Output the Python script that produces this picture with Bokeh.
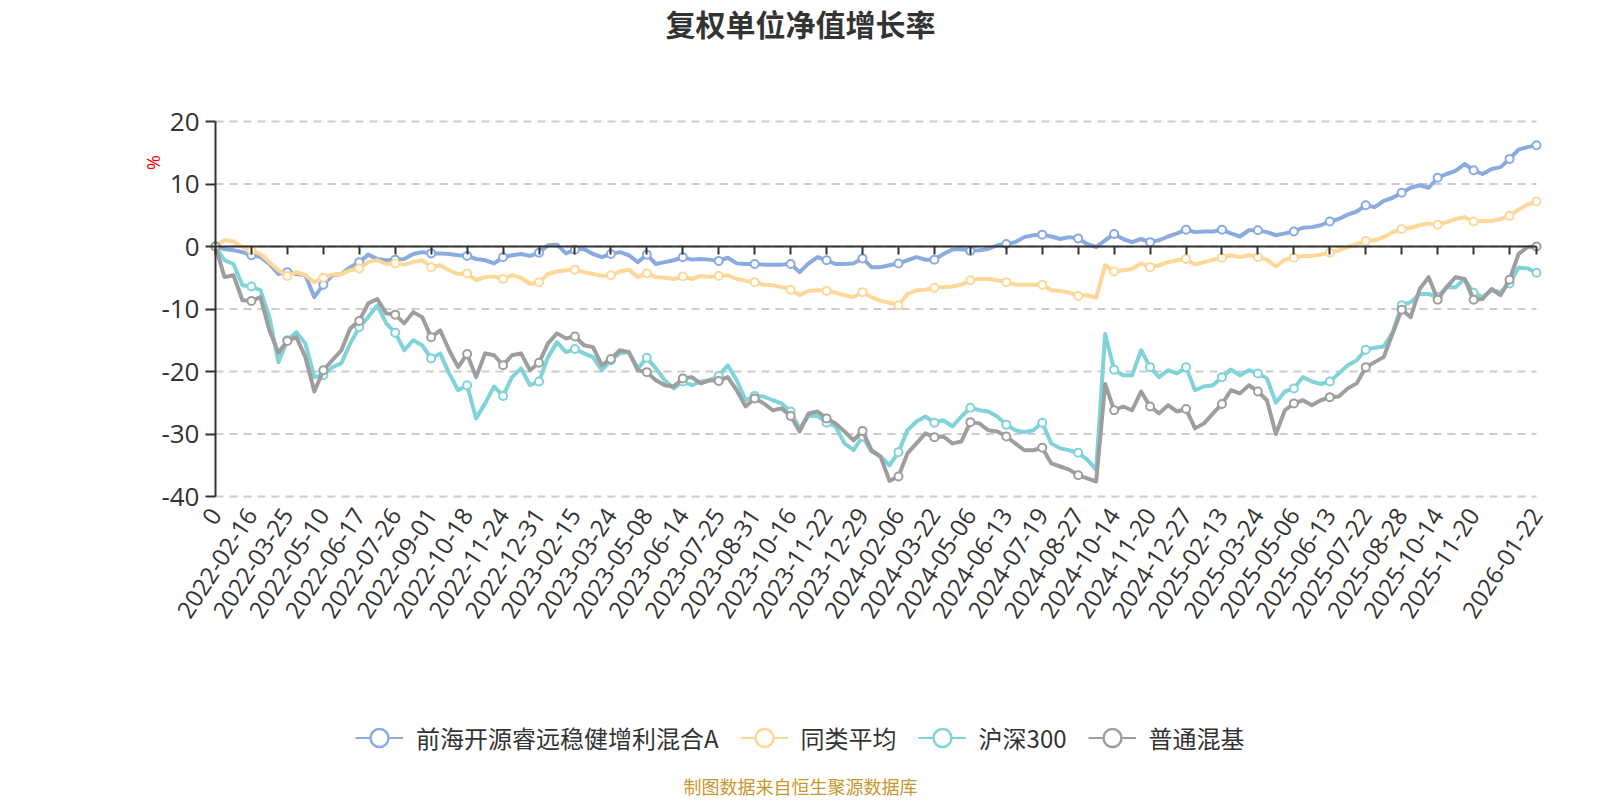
import math
from bokeh.plotting import figure
from bokeh.models import Range1d, FixedTicker, LinearAxis, Label, Legend, LegendItem, Grid
from bokeh.embed import file_html
from bokeh.resources import INLINE

# ---------------- data ----------------
tick_labels = ["0", "2022-02-16", "2022-03-25", "2022-05-10", "2022-06-17", "2022-07-26",
               "2022-09-01", "2022-10-18", "2022-11-24", "2022-12-31", "2023-02-15",
               "2023-03-24", "2023-05-08", "2023-06-14", "2023-07-25", "2023-08-31",
               "2023-10-16", "2023-11-22", "2023-12-29", "2024-02-06", "2024-03-22",
               "2024-05-06", "2024-06-13", "2024-07-19", "2024-08-27", "2024-10-14",
               "2024-11-20", "2024-12-27", "2025-02-13", "2025-03-24", "2025-05-06",
               "2025-06-13", "2025-07-22", "2025-08-28", "2025-10-14", "2025-11-20"]
end_label = "2026-01-22"

fund = [0, -0.4, -0.6, -0.9, -1.4, -1.7, -2.8, -4.4, -4.1, -4.4,
        -4.6, -8.1, -6.1, -4.6, -4.4, -3.3, -2.5, -1.3, -2.0, -2.2,
        -2.1, -2.0, -1.2, -0.9, -1.1, -1.1, -1.2, -1.4, -1.5, -2.0,
        -2.2, -2.7, -1.7, -1.4, -1.2, -1.5, -1.0,
        0.2, 0.3, -1.1, -0.5, -0.4, -1.2, -1.7, -1.2, -0.9, -1.4,
        -2.5, -1.3, -2.8, -2.5, -2.2, -1.7, -2.1, -2.0, -2.1, -2.3,
        -1.8, -2.7, -2.8, -2.8, -2.9, -2.9, -2.9, -2.8, -4.1, -2.7,
        -1.7, -2.2, -2.8, -2.8, -2.7, -1.9,
        -3.3, -3.3, -3.0, -2.7, -2.2, -1.7, -2.1, -2.1, -1.2, -0.5,
        -0.4, -0.7, -0.6, -0.4, 0.2, 0.4, 0.7, 1.5, 1.8, 1.9,
        1.6, 1.2, 1.5, 1.3, 0.4, -0.1, 1.0, 2.0, 1.2, 0.7,
        1.2, 0.7, 1.0, 1.6, 2.1, 2.7,
        2.3, 2.4, 2.4, 2.7, 2.1, 1.6, 2.6, 2.6, 2.3, 1.8,
        2.1, 2.4, 3.0, 3.1, 3.4, 4.0, 4.4, 5.1, 5.6, 6.6,
        6.3, 7.3, 7.8, 8.6, 9.4, 9.8, 9.4, 11.0, 11.6, 12.1,
        13.2, 12.2, 11.6, 12.4, 12.7, 14.0, 15.5, 15.9, 16.2]

peer_avg = [0, 1.0, 0.8, -0.1, -0.6, -1.2, -2.5, -3.8, -4.7, -4.1,
            -4.6, -5.7, -5.0, -4.5, -4.4, -3.8, -3.5, -2.5, -2.2, -2.8,
            -2.7, -2.9, -2.5, -2.2, -3.3, -3.0, -3.8, -4.4, -4.3, -5.4,
            -4.9, -4.8, -5.2, -4.6, -5.0, -6.0, -5.7,
            -4.4, -4.0, -3.8, -3.7, -4.1, -4.4, -4.7, -4.6, -4.0, -3.7,
            -4.9, -4.3, -4.9, -5.0, -5.2, -4.8, -5.2, -4.7, -4.9, -4.7,
            -4.6, -5.2, -5.5, -5.7, -6.1, -6.2, -6.5, -6.9, -7.8, -7.1,
            -7.0, -7.1, -7.4, -7.8, -8.1, -7.3,
            -8.1, -8.7, -9.0, -9.4, -7.6, -7.0, -6.9, -6.6, -6.5, -6.4,
            -6.1, -5.4, -5.2, -5.2, -5.4, -5.7, -6.1, -6.1, -6.1, -6.1,
            -7.0, -7.1, -7.4, -7.9, -7.8, -8.2, -3.0, -4.0, -3.8, -3.6,
            -2.7, -3.3, -3.0, -2.5, -2.2, -2.0,
            -2.9, -2.5, -2.1, -1.8, -1.4, -1.7, -1.4, -1.7, -2.1, -3.2,
            -2.1, -1.8, -1.5, -1.5, -1.3, -1.0, -0.6, -0.1, 0.4, 0.9,
            1.0, 1.5, 2.3, 2.8, 3.0, 3.4, 3.7, 3.5, 3.9, 4.4,
            4.7, 4.0, 4.1, 4.1, 4.4, 4.9, 5.9, 6.7, 7.2]

hs300 = [0, -2.2, -2.8, -6.2, -6.4, -7.0, -11.3, -18.5, -15.0, -13.7,
         -15.5, -20.9, -20.6, -19.3, -18.7, -15.5, -12.9, -11.3, -9.4, -12.3,
         -13.8, -16.6, -15.0, -15.8, -17.9, -17.1, -20.3, -23.0, -22.2, -27.5,
         -25.1, -22.4, -23.9, -20.9, -19.5, -22.2, -21.6,
         -17.7, -15.3, -16.9, -16.4, -17.1, -17.7, -19.8, -18.2, -17.1, -16.9,
         -19.5, -17.8, -19.5, -21.4, -22.7, -21.6, -22.2, -21.6, -21.4, -20.7,
         -19.0, -21.4, -24.6, -23.9, -24.0, -24.6, -25.1, -26.4, -29.1, -27.1,
         -27.1, -28.2, -28.8, -31.5, -32.6, -30.4,
         -32.8, -33.6, -35.0, -32.9, -29.4, -28.0, -27.2, -28.2, -27.8, -28.8,
         -27.2, -25.8, -26.2, -26.4, -27.2, -28.5, -29.4, -29.7, -29.4, -28.2,
         -31.5, -32.3, -32.6, -33.0, -34.1, -35.7, -14.0, -19.7, -20.6, -20.6,
         -16.6, -19.3, -20.9, -19.8, -20.3, -19.3,
         -23.0, -22.4, -22.2, -20.9, -19.7, -20.6, -19.8, -20.3, -21.1, -25.0,
         -23.2, -22.7, -20.9, -21.6, -22.0, -21.6, -20.3, -19.0, -18.2, -16.5,
         -16.2, -16.0, -13.7, -9.4, -8.9, -7.6, -7.6, -8.1, -6.5, -6.5,
         -5.2, -7.4, -8.1, -7.0, -7.3, -5.9, -3.4, -3.5, -4.2]

mixed_fund = [0, -4.9, -4.6, -8.6, -8.7, -8.1, -13.4, -17.0, -15.1, -14.5,
              -17.7, -23.2, -19.8, -18.2, -16.6, -13.1, -11.9, -9.1, -8.4, -10.7,
              -10.9, -12.3, -10.5, -11.3, -14.5, -13.4, -16.6, -19.3, -17.2, -20.9,
              -17.1, -17.4, -19.0, -17.4, -17.1, -19.8, -18.6,
              -15.5, -13.9, -14.7, -14.4, -15.8, -16.1, -19.0, -18.0, -16.6, -16.9,
              -19.8, -20.1, -21.4, -22.2, -22.4, -21.1, -20.9, -21.9, -21.4, -21.5,
              -20.9, -23.0, -25.6, -24.3, -25.1, -26.2, -25.9, -27.1, -29.6, -26.7,
              -26.4, -27.5, -28.3, -29.6, -31.0, -29.5,
              -32.6, -33.6, -37.5, -36.8, -33.1, -31.5, -29.9, -30.5, -30.4, -31.5,
              -31.2, -28.1, -28.3, -29.4, -29.6, -30.4, -31.5, -32.6, -32.6, -32.2,
              -34.7, -35.2, -35.7, -36.6, -37.1, -37.6, -22.0, -26.2, -25.6, -26.2,
              -23.2, -25.6, -26.7, -25.4, -26.4, -26.0,
              -29.1, -28.3, -26.7, -25.2, -23.0, -23.5, -22.2, -23.2, -24.6, -30.0,
              -26.2, -25.1, -24.6, -25.4, -24.6, -24.1, -24.0, -22.7, -21.9, -19.3,
              -18.5, -17.7, -13.9, -10.1, -11.3, -6.8, -4.9, -8.5, -6.5, -4.9,
              -5.2, -8.5, -8.4, -6.8, -7.8, -5.3, -1.2, -0.1, 0.0]

series_names = ["前海开源睿远稳健增利混合A", "同类平均", "沪深300", "普通混基"]
series_values = [fund, peer_avg, hs300, mixed_fund]
series_colors = ["#89ABDF", "#FFD797", "#80D3D8", "#9E9E9E"]
y_ticks = [-40, -30, -20, -10, 0, 10, 20]

# ---------------- layout (canvas pixels) ----------------
W, H = 1600, 800
FL, FR, FT, FB = 215, 1536, 121, 496     # data-area edges
N = len(fund)
STEP = 4
Y0, Y1 = -40, 20

PX_X = (FR - FL) / (N - 1)
PX_Y = (FB - FT) / (Y1 - Y0)
x_start = -FL / PX_X
x_end = (N - 1) + (W - FR) / PX_X
y_end = Y1 + FT / PX_Y
y_start = Y0 - (H - FB) / PX_Y

def px_to_x(px):
    return x_start + px / PX_X

def py_to_y(py):
    return y_end - py / PX_Y

xs = list(range(N))
tick_idx = list(range(0, N, STEP)) + [N - 1]
overrides = {}
for k, i in enumerate(range(0, N, STEP)):
    overrides[i] = tick_labels[k] if k < len(tick_labels) else ""
overrides[N - 1] = end_label

FONT_CJK = "Noto Sans CJK SC"
FONT_NUM = "Open Sans"
TXT = "#333333"

p = figure(width=W, height=H, output_backend="svg", toolbar_location=None,
           x_range=Range1d(x_start, x_end), y_range=Range1d(y_start, y_end),
           x_axis_location=None, y_axis_location=None, min_border=0)
p.outline_line_color = None
p.background_fill_color = "white"
p.border_fill_color = "white"
for r in p.center:
    if isinstance(r, Grid):
        r.visible = False

# dashed horizontal grid lines over the data area
p.segment(x0=[0] * len(y_ticks), x1=[N - 1] * len(y_ticks), y0=y_ticks, y1=y_ticks,
          line_color="#cccccc", line_width=2, line_dash="8 6")

# y axis
ya = LinearAxis(fixed_location=0, bounds=(Y0, Y1), ticker=FixedTicker(ticks=y_ticks),
                major_label_overrides={t: str(t) for t in y_ticks})
ya.axis_line_color = TXT
ya.axis_line_width = 2
ya.major_tick_line_color = TXT
ya.major_tick_line_width = 2
ya.major_tick_out = 10
ya.major_tick_in = 0
ya.minor_tick_line_color = None
ya.major_label_text_font = FONT_NUM
ya.major_label_text_font_size = "26px"
ya.major_label_text_color = TXT
ya.major_label_standoff = 6
p.add_layout(ya, "left")

# x axis line with ticks on the zero line
ax0 = LinearAxis(fixed_location=0, bounds=(0, N - 1), ticker=FixedTicker(ticks=tick_idx),
                 major_label_overrides={i: "" for i in tick_idx},
                 major_label_text_font_size="0px")
ax0.axis_line_color = TXT
ax0.axis_line_width = 2
ax0.major_tick_line_color = TXT
ax0.major_tick_line_width = 2
ax0.major_tick_out = 8
ax0.major_tick_in = 0
ax0.minor_tick_line_color = None
p.add_layout(ax0, "below")

# x axis labels under the data area
xa = LinearAxis(fixed_location=Y0, bounds=(0, N - 1), ticker=FixedTicker(ticks=tick_idx),
                major_label_overrides=overrides)
xa.major_label_orientation = math.radians(57)
xa.axis_line_color = None
xa.major_tick_line_color = None
xa.major_tick_out = 0
xa.major_tick_in = 0
xa.minor_tick_line_color = None
xa.major_label_text_font = FONT_NUM
xa.major_label_text_font_size = "24px"
xa.major_label_text_color = TXT
xa.major_label_standoff = 14
p.add_layout(xa, "below")

# series
items = []
off_x, off_y = [x_start - 50], [y_start - 50]   # legend-only renderers, kept out of view
for name, vals, col in zip(series_names, series_values, series_colors):
    p.line(xs, vals, line_color=col, line_width=4, line_join="round")
    p.scatter([xs[i] for i in tick_idx], [vals[i] for i in tick_idx],
              size=8, marker="circle", fill_color="white", line_color=col, line_width=2)
    dl = p.line(off_x * 2, off_y * 2, line_color=col, line_width=2)
    ds = p.scatter(off_x, off_y, marker="circle", fill_color="white",
                   line_color=col, line_width=2.5)
    items.append(LegendItem(label=name, renderers=[dl, ds]))

legend = Legend(items=items, orientation="horizontal", location=(355, H - 760),
                glyph_width=48, glyph_height=45, label_standoff=13, spacing=21,
                padding=0, margin=0, border_line_color=None, background_fill_alpha=0,
                label_text_font=FONT_CJK, label_text_font_size="24px",
                label_text_color=TXT)
p.add_layout(legend)

# texts
p.add_layout(Label(x=px_to_x(800), y=py_to_y(22), text="复权单位净值增长率",
                   text_align="center", text_baseline="middle",
                   text_font=FONT_CJK, text_font_size="30px", text_font_style="bold",
                   text_color=TXT))
p.add_layout(Label(x=px_to_x(152), y=py_to_y(162), text="%", angle=math.pi / 2,
                   text_align="center", text_baseline="middle",
                   text_font=FONT_NUM, text_font_size="18px", text_color="#ff0000"))
p.add_layout(Label(x=px_to_x(800), y=py_to_y(785), text="制图数据来自恒生聚源数据库",
                   text_align="center", text_baseline="middle",
                   text_font=FONT_CJK, text_font_size="18px", text_color="#C8972E"))

open("out.html", "w").write(file_html(p, INLINE))
